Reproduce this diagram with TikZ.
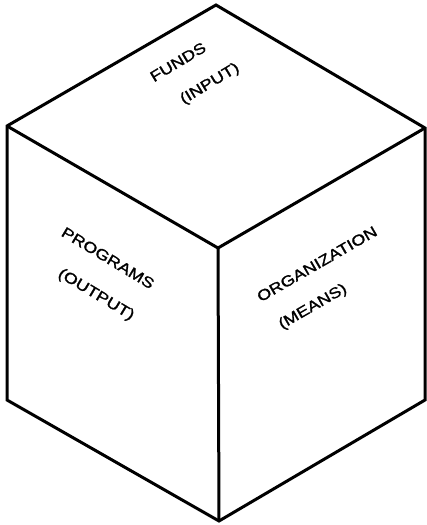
\documentclass[tikz,border=0pt]{standalone}
\usepackage{fontspec}
\setmainfont{Liberation Sans}
\newfontfamily\lblfont[FakeBold=1.3]{Liberation Sans}
\tikzset{
  edge/.style={line width=3pt, line join=miter, line cap=butt},
  lbl/.style={inner sep=0pt, font=\lblfont\fontsize{15}{17}\selectfont}
}
\newcommand{\widetxt}[1]{\scalebox{1.2}[1]{#1}}
\begin{document}
\begin{tikzpicture}[x=1pt,y=1pt]
\useasboundingbox (0,0) rectangle (427,525);
\coordinate (T) at (216,520);
\coordinate (LT) at (7,399);
\coordinate (RT) at (425,397);
\coordinate (C) at (218,277);
\coordinate (LB) at (7,125);
\coordinate (RB) at (425,125);
\coordinate (B) at (219,4);
\draw[edge] (T) -- (RT) -- (RB) -- (B) -- (LB) -- (LT) -- cycle;
\draw[edge] (LT) -- (C) -- (RT);
\draw[edge] (C) -- (B);
\node[lbl, rotate=31] (funds) at (178,463) {\widetxt{FUNDS}};
\node[lbl, rotate=31] (input) at (210,441) {\widetxt{(INPUT)}};
\node[lbl, rotate=-31] (programs) at (108,267) {\widetxt{PROGRAMS}};
\node[lbl, rotate=-31] (output) at (96,230) {\widetxt{(OUTPUT)}};
\node[lbl, rotate=30] (org) at (317,261) {\widetxt{ORGANIZATION}};
\node[lbl, rotate=30] (means) at (313,218) {\widetxt{(MEANS)}};
\end{tikzpicture}
\end{document}
